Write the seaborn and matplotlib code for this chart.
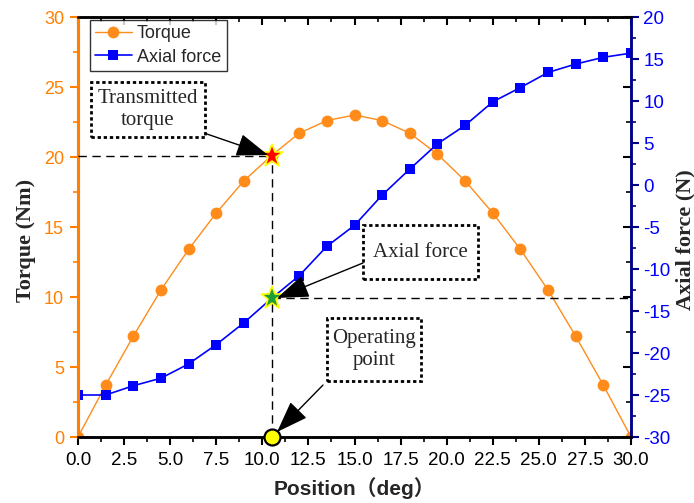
import matplotlib
matplotlib.use("Agg")
import matplotlib.pyplot as plt
import seaborn as sns
from matplotlib.patches import Rectangle
from matplotlib.ticker import MultipleLocator, FormatStrFormatter

# ---------------- data ----------------
position = [0.0, 1.5, 3.0, 4.5, 6.0, 7.5, 9.0, 10.5, 12.0, 13.5, 15.0,
            16.5, 18.0, 19.5, 21.0, 22.5, 24.0, 25.5, 27.0, 28.5, 30.0]
torque = [0.0, 3.7, 7.2, 10.5, 13.4, 16.0, 18.3, 20.1, 21.7, 22.6, 23.0,
          22.6, 21.7, 20.2, 18.3, 16.0, 13.4, 10.5, 7.2, 3.7, 0.0]
axial_force = [-25.0, -25.0, -23.9, -23.0, -21.3, -19.0, -16.4, -13.5, -10.8, -7.3, -4.8,
               -1.2, 1.9, 4.9, 7.1, 9.9, 11.6, 13.4, 14.4, 15.2, 15.7]

operating_position = 10.5
transmitted_torque = 20.1
operating_axial_force = -13.5

series_names = ["Torque", "Axial force"]
x_label = "Position（deg）"
y_left_label = "Torque (Nm)"
y_right_label = "Axial force (N)"
box_texts = ["Transmitted\ntorque", "Axial force", "Operating\npoint"]

# ---------------- style ----------------
sns.set_style("white")
plt.rcParams["font.family"] = ["Liberation Sans", "Noto Sans CJK SC", "DejaVu Sans"]
plt.rcParams["axes.unicode_minus"] = False
SERIF = ["Liberation Serif", "DejaVu Serif"]

ORANGE = "#FF8000"
ORANGE_M = "#FF8C1A"
BLUE = "#0000FF"
NAVY = "#00008B"

fig = plt.figure(figsize=(6.94, 5.03), dpi=100)
ax = fig.add_axes([78 / 694, 1 - 437 / 503, 553 / 694, 420 / 503])
ax2 = ax.twinx()

sns.lineplot(x=position, y=torque, ax=ax, color=ORANGE_M, marker="o",
             markersize=8.5, markeredgewidth=0, linewidth=1.0, legend=False)
torque_line = ax.lines[-1]
sns.lineplot(x=position, y=axial_force, ax=ax2, color=BLUE, marker="s",
             markersize=7.5, markeredgewidth=0, linewidth=1.2, legend=False)
axial_line = ax2.lines[-1]

ax.set_xlim(0, 30)
ax.set_ylim(0, 30)
ax2.set_ylim(-30, 20)

# spines
for a in (ax, ax2):
    a.spines["left"].set_color(ORANGE)
    a.spines["left"].set_linewidth(2.2)
    a.spines["right"].set_color(NAVY)
    a.spines["right"].set_linewidth(1.8)
    a.spines["top"].set_color("black")
    a.spines["top"].set_linewidth(1.8)
    a.spines["bottom"].set_color("black")
    a.spines["bottom"].set_linewidth(1.8)

# ticks
ax.xaxis.set_major_locator(MultipleLocator(2.5))
ax.xaxis.set_minor_locator(MultipleLocator(1.25))
ax.xaxis.set_major_formatter(FormatStrFormatter("%.1f"))
ax.yaxis.set_major_locator(MultipleLocator(5))
ax.yaxis.set_minor_locator(MultipleLocator(2.5))
ax2.yaxis.set_major_locator(MultipleLocator(5))
ax2.yaxis.set_minor_locator(MultipleLocator(2.5))

ax.tick_params(axis="x", which="both", direction="out", bottom=True, top=False,
               colors="black", labelsize=13.5, pad=4.5)
ax.tick_params(axis="x", which="major", length=6, width=1.5)
ax.tick_params(axis="x", which="minor", length=3.5, width=1.2)
ax.tick_params(axis="y", which="both", direction="out", left=True, right=False,
               colors=ORANGE, labelsize=13, pad=4)
ax.tick_params(axis="y", which="major", length=6, width=1.5)
ax.tick_params(axis="y", which="minor", length=3.5, width=1.2)
ax2.tick_params(axis="y", which="both", direction="out", right=True, left=False,
                colors=BLUE, labelsize=13.5, pad=3)
ax2.tick_params(axis="y", which="major", length=6, width=1.5)
ax2.tick_params(axis="y", which="minor", length=3.5, width=1.2)
ax2.tick_params(axis="y", which="both", color=NAVY)

# mirrored inward ticks (top and right)
sec_top = ax.secondary_xaxis("top")
sec_top.xaxis.set_major_locator(MultipleLocator(2.5))
sec_top.xaxis.set_minor_locator(MultipleLocator(1.25))
sec_top.tick_params(axis="x", which="both", direction="in", labeltop=False, colors="black")
sec_top.tick_params(axis="x", which="major", length=6, width=1.5)
sec_top.tick_params(axis="x", which="minor", length=3.5, width=1.2)
sec_top.spines["top"].set_visible(False)

sec_right = ax.secondary_yaxis("right")
sec_right.yaxis.set_major_locator(MultipleLocator(5))
sec_right.yaxis.set_minor_locator(MultipleLocator(2.5))
sec_right.tick_params(axis="y", which="both", direction="in", labelright=False, colors="black")
sec_right.tick_params(axis="y", which="major", length=6, width=1.5)
sec_right.tick_params(axis="y", which="minor", length=3.5, width=1.2)
sec_right.spines["right"].set_visible(False)

# labels
ax.set_xlabel(x_label, fontsize=15, fontweight="bold", labelpad=6)
ax.set_ylabel(y_left_label, fontsize=16, fontweight="bold", family=SERIF)
ax2.set_ylabel(y_right_label, fontsize=16, fontweight="bold", family=SERIF)
ax.yaxis.set_label_coords(-0.076, 0.469)
ax2.yaxis.set_label_coords(1.080, 0.469)

# guide lines (dashed)
T = ax.transData
dash = (0, (6, 4))
ax2.plot([0, operating_position], [transmitted_torque, transmitted_torque],
         transform=T, color="black", lw=1, ls=dash, zorder=3)
ax2.plot([operating_position, operating_position], [0, transmitted_torque],
         transform=T, color="black", lw=1, ls=dash, zorder=3)
ax2.plot([operating_position, 30], [operating_axial_force, operating_axial_force],
         color="black", lw=1, ls=dash, zorder=3)

# highlighted points
ax2.plot([operating_position], [transmitted_torque], transform=T, marker="*",
         color="red", markersize=17, mec="yellow", mew=1.2, zorder=6, ls="none")
ax2.plot([operating_position], [operating_axial_force], marker="*",
         color="#1E9E3A", markersize=17, mec="yellow", mew=1.2, zorder=6, ls="none")
ax2.plot([operating_position], [0], transform=T, marker="o", color="yellow",
         markersize=11.5, mec="black", mew=1.6, zorder=7, ls="none", clip_on=False)

# annotation boxes (torque-axis data coords)
boxes = [
    ((0.705, 21.43), 6.184, 3.93, (3.80, 23.39)),
    ((15.46, 11.29), 6.24, 3.85, (18.58, 13.21)),
    ((13.51, 4.0), 5.10, 4.5, (16.06, 6.25)),
]
for (xy, w, h, c), txt in zip(boxes, box_texts):
    ax2.add_patch(Rectangle(xy, w, h, transform=T, fc="white", ec="black",
                            lw=2, ls=(0, (1.2, 1.0)), zorder=8))
    ax2.text(c[0], c[1], txt, transform=T, ha="center", va="center",
             fontsize=15, family=SERIF, zorder=9, linespacing=1.15)

arrows = [
    ((7.0, 21.64), (10.31, 20.14)),
    ((15.46, 12.43), (10.80, 9.93)),
    ((13.29, 3.71), (10.80, 0.36)),
]
for start, tip in arrows:
    ax2.annotate("", xy=tip, xycoords=T, xytext=start, textcoords=T,
                 arrowprops=dict(arrowstyle="-|>,head_length=1.0,head_width=0.36",
                                 mutation_scale=20, lw=1, color="black",
                                 shrinkA=0, shrinkB=0), zorder=9)

# legend
leg = ax2.legend([torque_line, axial_line], series_names, loc="upper left",
                 bbox_to_anchor=(12 / 553, 1 - 3 / 420), borderaxespad=0,
                 fontsize=13, frameon=True, fancybox=False, edgecolor="black",
                 handlelength=2.0, borderpad=0.3, labelspacing=0.35,
                 handletextpad=0.3)
leg.get_frame().set_linewidth(1.0)
leg.set_zorder(10)

fig.savefig("out.png", dpi=100)
